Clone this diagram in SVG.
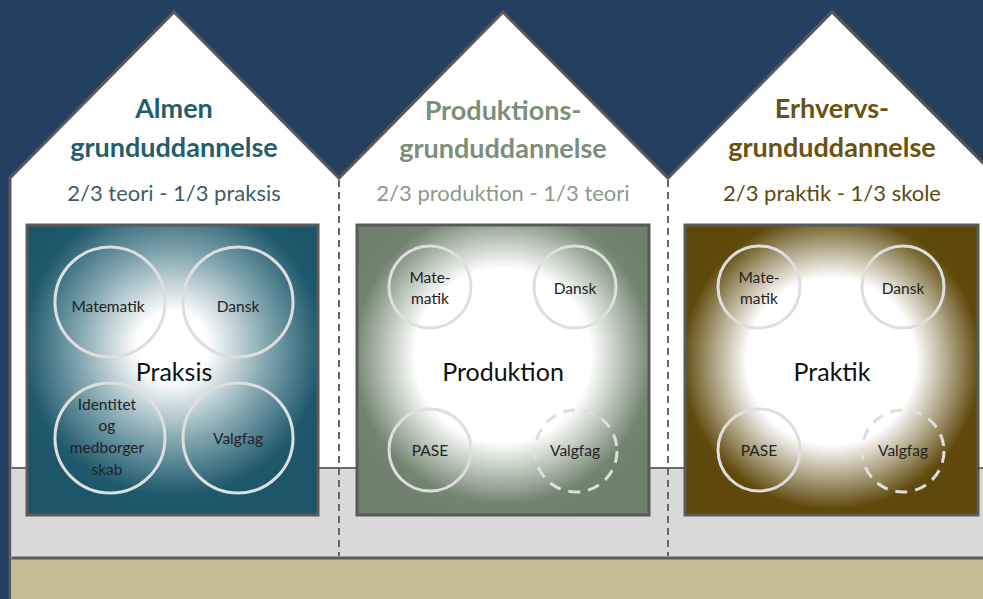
<svg xmlns="http://www.w3.org/2000/svg" width="983" height="599" viewBox="0 0 983 599">
<defs>
<style>
.title{font-family:Lato,"Open Sans",sans-serif;font-weight:bold;font-size:27px;text-anchor:middle}
.sub{font-family:Lato,"Open Sans",sans-serif;font-size:22px;text-anchor:middle}
.main{font-family:Lato,"Open Sans",sans-serif;font-size:25px;text-anchor:middle;fill:#111}
.lbl{font-family:Lato,"Open Sans",sans-serif;font-size:15.5px;text-anchor:middle;fill:#222}
.box{stroke:#5a5a5a;stroke-width:3}
.circ{fill:none;stroke:#dedede;stroke-width:3}
.dcirc{fill:none;stroke:#dedede;stroke-width:3;stroke-dasharray:12,8}
.sep{stroke:#666;stroke-width:2;stroke-dasharray:7,5}
</style>
<radialGradient id="g1" cx="0.5" cy="0.42" r="0.6">
<stop offset="0" stop-color="#ffffff"/>
<stop offset="0.2" stop-color="#ffffff"/>
<stop offset="0.55" stop-color="#7fa3ad"/>
<stop offset="0.85" stop-color="#1f5a6c"/>
<stop offset="1" stop-color="#1b5567"/>
</radialGradient>
<radialGradient id="g2" cx="0.5" cy="0.45" r="0.6">
<stop offset="0" stop-color="#ffffff"/>
<stop offset="0.5" stop-color="#ffffff"/>
<stop offset="0.85" stop-color="#72866f"/>
<stop offset="1" stop-color="#6d816a"/>
</radialGradient>
<radialGradient id="g3" cx="0.5" cy="0.47" r="0.6">
<stop offset="0" stop-color="#ffffff"/>
<stop offset="0.48" stop-color="#ffffff"/>
<stop offset="0.85" stop-color="#5f4a0c"/>
<stop offset="1" stop-color="#5c4708"/>
</radialGradient>
</defs>
<rect x="0" y="0" width="983" height="599" fill="#253f60"/>
<g id="house">
<polygon points="10,610 10,178 174,12 339,178 503,12 668,178 832,12 990,170 990,610" fill="#ffffff" stroke="#595959" stroke-width="3"/>
<rect x="11.5" y="468" width="975" height="90" fill="#d9d9d9"/>
<line x1="11.5" y1="468" x2="983" y2="468" stroke="#6a6a6a" stroke-width="2"/>
<rect x="11.5" y="559" width="975" height="45" fill="#c6be98"/>
<line x1="11.5" y1="558" x2="983" y2="558" stroke="#5a5a5a" stroke-width="3"/>
</g>
<g id="connectors">
<line class="sep" x1="339" y1="180" x2="339" y2="556"/>
<line class="sep" x1="668" y1="180" x2="668" y2="556"/>
</g>
<g id="almen">
<text class="title" x="174" y="118" fill="#245e6b">Almen</text>
<text class="title" x="174" y="157" fill="#245e6b">grunduddannelse</text>
<text class="sub" x="174" y="201" fill="#3d5c68">2/3 teori - 1/3 praksis</text>
<rect class="box" x="27" y="225" width="291" height="290" fill="url(#g1)"/>
<circle class="circ" cx="110" cy="302" r="55"/>
<circle class="circ" cx="238" cy="302" r="55"/>
<circle class="circ" cx="110" cy="438" r="55"/>
<circle class="circ" cx="238" cy="438" r="55"/>
<text class="lbl" x="108" y="312">Matematik</text>
<text class="lbl" x="238" y="312">Dansk</text>
<text class="lbl" x="107" y="410">Identitet</text>
<text class="lbl" x="107" y="431">og</text>
<text class="lbl" x="107" y="453">medborger</text>
<text class="lbl" x="107" y="475">skab</text>
<text class="lbl" x="238" y="444">Valgfag</text>
<text class="main" x="174" y="381">Praksis</text>
</g>
<g id="produktion">
<text class="title" x="503" y="120" fill="#7b8f79">Produktions-</text>
<text class="title" x="503" y="158" fill="#7b8f79">grunduddannelse</text>
<text class="sub" x="503" y="201" fill="#8a9b88">2/3 produktion - 1/3 teori</text>
<rect class="box" x="357" y="225" width="292" height="290" fill="url(#g2)"/>
<circle class="circ" cx="430" cy="287" r="41"/>
<circle class="circ" cx="575" cy="287" r="41"/>
<circle class="circ" cx="430" cy="450" r="41"/>
<circle class="dcirc" cx="576" cy="451" r="41"/>
<text class="lbl" x="430" y="283">Mate-</text>
<text class="lbl" x="430" y="304">matik</text>
<text class="lbl" x="575" y="294">Dansk</text>
<text class="lbl" x="430" y="456">PASE</text>
<text class="lbl" x="575" y="456">Valgfag</text>
<text class="main" x="503" y="381">Produktion</text>
</g>
<g id="erhverv">
<text class="title" x="832" y="118" fill="#6a520f">Erhvervs-</text>
<text class="title" x="832" y="157" fill="#6a520f">grunduddannelse</text>
<text class="sub" x="832" y="201" fill="#5e4a0c">2/3 praktik - 1/3 skole</text>
<rect class="box" x="685" y="225" width="293" height="290" fill="url(#g3)"/>
<circle class="circ" cx="759" cy="287" r="41"/>
<circle class="circ" cx="903" cy="287" r="41"/>
<circle class="circ" cx="759" cy="450" r="41"/>
<circle class="dcirc" cx="903" cy="451" r="41"/>
<text class="lbl" x="759" y="283">Mate-</text>
<text class="lbl" x="759" y="304">matik</text>
<text class="lbl" x="903" y="294">Dansk</text>
<text class="lbl" x="759" y="456">PASE</text>
<text class="lbl" x="903" y="456">Valgfag</text>
<text class="main" x="832" y="381">Praktik</text>
</g>
</svg>
